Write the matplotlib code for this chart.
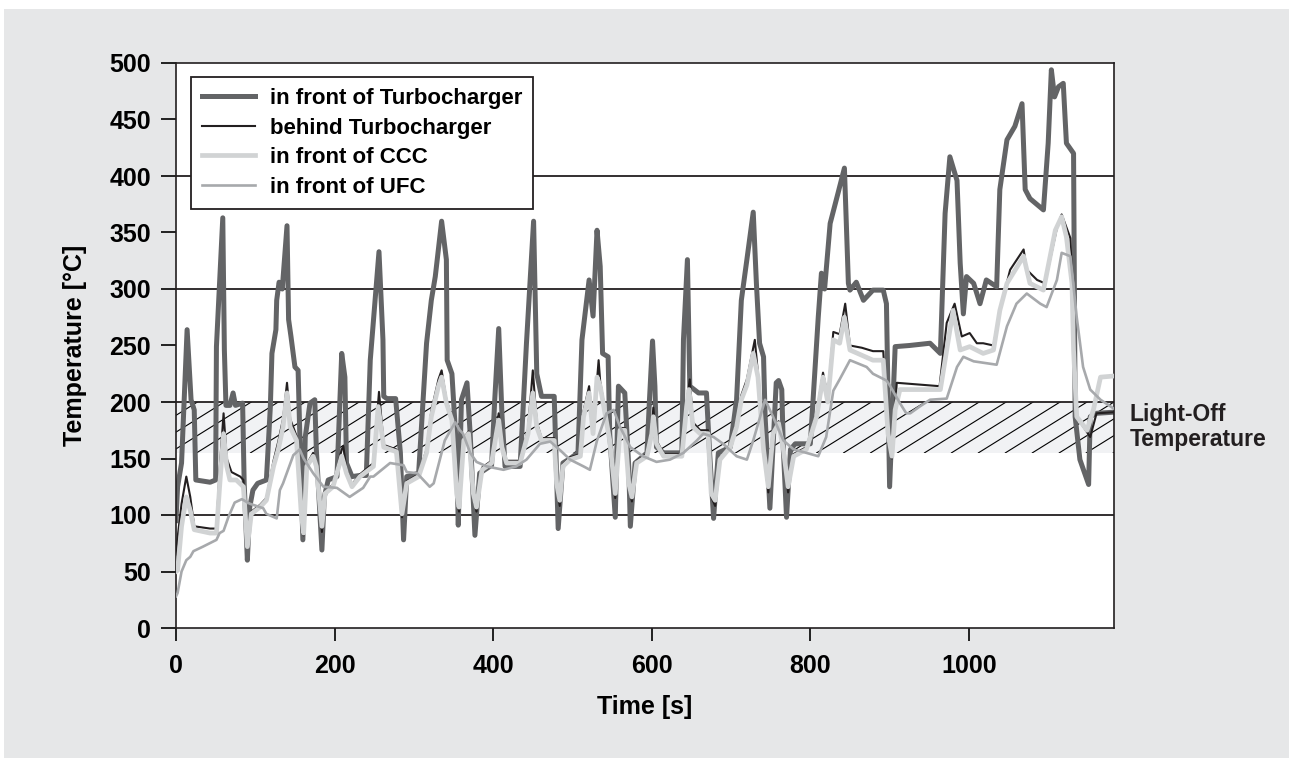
import numpy as np
import matplotlib
matplotlib.use("Agg")
import matplotlib.pyplot as plt
from matplotlib.patches import Rectangle
from matplotlib.transforms import blended_transform_factory

plt.rcParams['font.family'] = ['Liberation Sans', 'DejaVu Sans']
plt.rcParams['font.weight'] = 'bold'

# in front of Turbocharger
tc_t = [0, 2, 7, 14, 19, 23, 25, 43, 50, 51, 59, 61, 63, 68, 72, 75, 84, 86, 90, 93,
        97, 103, 114, 119, 121, 126, 127, 130, 134, 140, 142, 145, 150, 154, 156, 160, 163, 169, 175, 177,
        184, 187, 192, 203, 209, 213, 215, 222, 232, 240, 245, 251, 256, 261, 262, 266, 277, 283, 287, 291,
        306, 316, 322, 327, 335, 341, 342, 348, 354, 356, 360, 367, 371, 377, 383, 398, 402, 407, 411, 415,
        434, 442, 451, 455, 461, 474, 477, 482, 488, 497, 507, 512, 518, 521, 526, 531, 535, 538, 545, 547,
        554, 558, 566, 571, 573, 579, 594, 597, 601, 604, 606, 615, 638, 640, 645, 648, 659, 669, 673, 678,
        684, 699, 707, 713, 720, 728, 732, 736, 741, 743, 749, 757, 760, 764, 766, 770, 775, 781, 800, 804,
        810, 814, 818, 825, 835, 843, 848, 850, 858, 867, 879, 892, 896, 900, 907, 925, 951, 964, 970, 976,
        985, 989, 993, 997, 1006, 1014, 1022, 1035, 1039, 1048, 1058, 1067, 1071, 1077, 1094, 1100, 1104, 1108, 1113, 1119,
        1123, 1132, 1134, 1140, 1151, 1153, 1161, 1183]
tc_v = [95, 125, 146, 264, 202, 193, 131, 129, 131, 249, 363, 246, 197, 197, 208, 197, 199, 128, 60, 107,
        122, 128, 131, 196, 243, 264, 290, 306, 300, 356, 273, 258, 231, 228, 175, 78, 169, 199, 202, 158,
        69, 116, 131, 134, 243, 222, 146, 134, 135, 135, 237, 290, 333, 255, 205, 203, 203, 155, 78, 134,
        137, 252, 290, 311, 360, 326, 237, 225, 155, 91, 202, 217, 172, 82, 137, 144, 202, 265, 190, 143,
        143, 252, 360, 225, 205, 205, 205, 88, 146, 150, 155, 255, 290, 308, 276, 352, 320, 243, 240, 172,
        98, 214, 208, 143, 90, 146, 155, 200, 254, 214, 160, 155, 155, 255, 326, 214, 208, 208, 155, 97,
        155, 160, 202, 290, 326, 368, 305, 252, 240, 187, 106, 217, 219, 211, 158, 98, 158, 163, 163, 208,
        275, 314, 300, 358, 385, 407, 305, 299, 306, 290, 299, 299, 287, 125, 249, 250, 252, 243, 367, 417,
        396, 323, 278, 311, 305, 287, 308, 302, 388, 432, 444, 464, 388, 380, 370, 429, 494, 470, 479, 482,
        429, 420, 187, 149, 127, 187, 190, 191]

# behind Turbocharger
bt_t = [0, 2, 7, 13, 18, 23, 43, 51, 55, 60, 64, 70, 81, 85, 90, 95, 106, 114, 123, 129,
        135, 140, 144, 152, 158, 161, 165, 173, 177, 184, 188, 198, 209, 211, 215, 222, 232, 249, 256, 262,
        278, 285, 291, 306, 316, 322, 331, 335, 341, 348, 354, 357, 363, 369, 375, 379, 386, 398, 404, 407,
        411, 417, 434, 444, 450, 455, 461, 477, 480, 484, 488, 497, 510, 514, 521, 526, 533, 535, 541, 547,
        554, 560, 566, 571, 575, 581, 594, 600, 602, 606, 615, 638, 644, 648, 652, 661, 671, 675, 680, 686,
        699, 707, 713, 720, 730, 734, 741, 747, 753, 760, 766, 772, 779, 795, 808, 816, 822, 829, 837, 844,
        850, 865, 879, 892, 898, 903, 909, 963, 972, 982, 991, 1001, 1010, 1018, 1031, 1039, 1052, 1069, 1073, 1086,
        1096, 1111, 1117, 1128, 1132, 1136, 1153, 1161, 1183]
bt_v = [65, 80, 110, 134, 116, 90, 88, 88, 140, 190, 150, 138, 134, 131, 75, 103, 109, 115, 148, 165,
        185, 217, 185, 170, 100, 82, 145, 155, 145, 85, 120, 127, 158, 161, 140, 127, 136, 146, 209, 162,
        158, 98, 130, 136, 158, 192, 220, 228, 202, 186, 115, 103, 168, 174, 115, 103, 142, 148, 176, 190,
        162, 148, 148, 176, 228, 182, 168, 168, 125, 108, 145, 151, 154, 192, 214, 175, 237, 218, 193, 168,
        115, 177, 177, 125, 112, 148, 154, 176, 195, 166, 154, 154, 200, 220, 182, 175, 175, 116, 108, 150,
        162, 181, 206, 220, 255, 225, 158, 120, 174, 183, 158, 120, 154, 160, 190, 226, 205, 262, 260, 287,
        250, 248, 245, 245, 172, 150, 217, 214, 270, 287, 258, 261, 252, 252, 250, 281, 317, 335, 317, 308,
        305, 354, 366, 345, 277, 187, 169, 190, 191]

# in front of CCC
cc_t = [0, 2, 7, 13, 18, 23, 43, 51, 55, 60, 64, 68, 76, 85, 90, 95, 106, 114, 123, 129,
        135, 140, 144, 152, 158, 161, 165, 173, 177, 184, 188, 198, 209, 215, 222, 232, 249, 255, 262, 278,
        285, 291, 306, 316, 322, 331, 335, 341, 348, 354, 357, 363, 369, 375, 379, 386, 398, 404, 407, 411,
        417, 434, 444, 450, 455, 461, 477, 480, 484, 488, 497, 510, 514, 521, 526, 531, 535, 541, 547, 554,
        560, 566, 571, 575, 581, 594, 600, 602, 606, 615, 638, 644, 647, 652, 661, 671, 675, 680, 686, 699,
        707, 713, 720, 728, 734, 741, 747, 753, 760, 766, 772, 779, 795, 808, 816, 822, 829, 837, 843, 850,
        879, 892, 898, 903, 907, 913, 964, 980, 989, 1001, 1018, 1031, 1039, 1048, 1069, 1077, 1094, 1109, 1117, 1123,
        1130, 1132, 1136, 1149, 1157, 1166, 1183]
cc_v = [50, 51, 90, 116, 104, 87, 84, 84, 125, 172, 143, 131, 131, 125, 72, 101, 107, 113, 143, 158,
        178, 208, 178, 166, 101, 84, 143, 152, 143, 90, 119, 125, 152, 137, 125, 134, 143, 196, 160, 156,
        101, 128, 134, 155, 187, 214, 222, 199, 184, 119, 107, 166, 172, 119, 107, 140, 146, 172, 184, 160,
        146, 146, 172, 208, 178, 166, 166, 128, 113, 143, 149, 152, 187, 208, 172, 222, 214, 190, 166, 119,
        175, 175, 128, 116, 146, 152, 172, 187, 163, 152, 152, 196, 211, 178, 172, 172, 119, 113, 149, 160,
        178, 202, 215, 243, 222, 158, 125, 172, 181, 158, 125, 152, 158, 187, 222, 200, 255, 252, 275, 246,
        237, 237, 172, 152, 193, 211, 211, 281, 246, 249, 243, 246, 281, 305, 329, 305, 299, 352, 364, 346,
        305, 246, 187, 175, 193, 222, 223]

# in front of UFC
uf_t = [0, 2, 7, 13, 18, 22, 34, 51, 55, 60, 66, 74, 83, 93, 110, 114, 127, 131, 135, 148,
        156, 161, 173, 186, 203, 219, 236, 245, 249, 270, 287, 291, 304, 320, 325, 339, 352, 358, 362, 371,
        379, 392, 413, 429, 442, 459, 472, 485, 497, 514, 522, 531, 543, 552, 560, 573, 589, 606, 623, 640,
        657, 665, 678, 690, 707, 720, 728, 743, 753, 766, 779, 795, 810, 820, 829, 837, 850, 871, 879, 896,
        900, 913, 921, 926, 938, 951, 972, 985, 993, 1006, 1035, 1048, 1060, 1073, 1090, 1098, 1111, 1117, 1128, 1136,
        1144, 1153, 1166, 1183]
uf_v = [28, 31, 50, 60, 63, 68, 72, 78, 84, 86, 98, 111, 114, 110, 106, 101, 97, 122, 128, 153,
        158, 150, 137, 125, 124, 116, 124, 134, 134, 146, 144, 138, 137, 125, 128, 166, 182, 175, 172, 155,
        147, 143, 140, 143, 149, 163, 165, 157, 149, 143, 140, 166, 190, 193, 178, 160, 152, 147, 149, 155,
        166, 172, 169, 163, 152, 149, 166, 202, 187, 166, 158, 155, 152, 169, 210, 220, 237, 231, 225, 219,
        215, 199, 190, 190, 196, 202, 203, 231, 240, 236, 233, 267, 287, 296, 287, 284, 308, 332, 329, 275,
        231, 211, 202, 194]

light_off = (155, 200)

fig = plt.figure(figsize=(12.89, 7.58), dpi=100, facecolor='white')
fig.patches.append(Rectangle((4 / 1289, 0), 1, 749 / 758, transform=fig.transFigure,
                             facecolor='#e6e7e8', edgecolor='none', zorder=-10))
ax = fig.add_axes([176 / 1289, 1 - 628 / 758, 938 / 1289, 565 / 758])
ax.set_facecolor('white')

# light-off band with hatching
xmax = 1183
band = Rectangle((0, light_off[0]), xmax, light_off[1] - light_off[0],
                 facecolor='#f1f2f4', edgecolor='none', zorder=1)
ax.add_patch(band)
for s in np.arange(-110, xmax, 34):
    ln, = ax.plot([s, s + 103], [light_off[0], light_off[1]], color='black', lw=0.8, zorder=1.2)
    ln.set_clip_path(band)

for yv in [100, 200, 300, 400]:
    ax.axhline(yv, color='#231f20', lw=1.3, zorder=1.5)

ax.plot(tc_t, tc_v, color='#636466', lw=3.6, solid_joinstyle='round', zorder=2,
        label='in front of Turbocharger')
ax.plot(bt_t, bt_v, color='#231f20', lw=1.5, zorder=3, label='behind Turbocharger')
ax.plot(cc_t, cc_v, color='#d1d3d4', lw=3.4, solid_joinstyle='round', zorder=4, label='in front of CCC')
ax.plot(uf_t, uf_v, color='#a7a9ac', lw=1.9, zorder=5, label='in front of UFC')

ax.set_xlim(0, xmax)
ax.set_ylim(0, 500)
ax.set_xticks(range(0, 1001, 200))
ax.set_yticks(range(0, 501, 50))
ax.tick_params(axis='y', direction='out', length=11, width=1.2, labelsize=18, pad=7)
ax.tick_params(axis='x', direction='out', length=9, width=1.2, labelsize=18, pad=10)
for sp in ax.spines.values():
    sp.set_linewidth(1.2)
    sp.set_color('#231f20')

ax.set_xlabel('Time [s]', fontsize=18, fontweight='bold', labelpad=12)
ax.set_ylabel('Temperature [°C]', fontsize=18, fontweight='bold', labelpad=16)

leg = ax.legend(loc='upper left', bbox_to_anchor=(0.016, 0.975), borderaxespad=0, fontsize=16,
                frameon=True, fancybox=False, framealpha=1, edgecolor='#231f20', handlelength=2.4,
                handletextpad=0.65, labelspacing=0.38, borderpad=0.5)
leg.get_frame().set_linewidth(1.3)

trans = blended_transform_factory(ax.transAxes, ax.transData)
ax.text(1.017, 178, 'Light-Off\nTemperature', transform=trans, fontsize=16.5,
        fontweight='bold', ha='left', va='center', color='#231f20', linespacing=1.1)

fig.savefig('out.png', dpi=100, facecolor=fig.get_facecolor())
